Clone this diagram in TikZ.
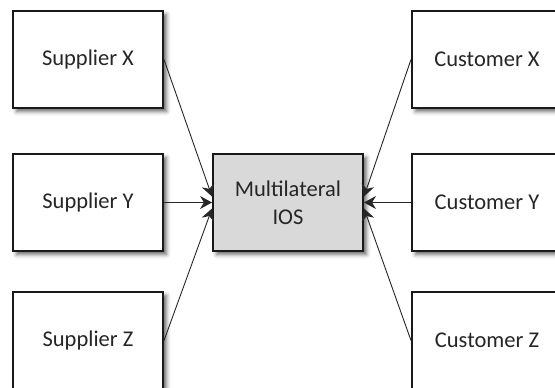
\documentclass[tikz,border=0pt]{standalone}
\usepackage{fontspec}
\setmainfont{Carlito}
\usetikzlibrary{arrows.meta,shadows.blur}
\begin{document}
\begin{tikzpicture}[x=1pt,y=1pt,
  box/.style={draw=black!90, line width=2pt, fill=white, minimum width=150pt, minimum height=97pt,
    inner sep=0pt, text=black!85, font=\fontsize{22.5}{28}\selectfont, align=center,
    blur shadow={shadow xshift=3.5pt, shadow yshift=-3.5pt, shadow blur radius=4pt, shadow opacity=60}},
  hub/.style={box, fill=black!15},
  link/.style={draw=black!85, line width=0.9pt, -{Stealth[length=12pt,width=13pt,inset=4pt]}}]
\useasboundingbox (0,0) rectangle (555,-388);
\clip (0,0) rectangle (555,-388);
\node[box] (sx) at (88,-59.5) {Supplier X};
\node[box] (sy) at (88,-202.5) {Supplier Y};
\node[box] (sz) at (88,-340.5) {Supplier Z};
\node[box] (cx) at (487,-59.5) {Customer X};
\node[box] (cy) at (487,-202.5) {Customer Y};
\node[box] (cz) at (487,-340.5) {Customer Z};
\node[hub] (m) at (288,-202.5) {Multilateral\\IOS};
\coordinate (mlu) at ([yshift=6pt]m.west);
\coordinate (mld) at ([yshift=-6pt]m.west);
\coordinate (mru) at ([yshift=6pt]m.east);
\coordinate (mrd) at ([yshift=-6pt]m.east);
\draw[link] (sx.east) -- (mlu);
\draw[link] (sy.east) -- (m.west);
\draw[link] (sz.east) -- (mld);
\draw[link] (cx.west) -- (mru);
\draw[link] (cy.west) -- (m.east);
\draw[link] (cz.west) -- (mrd);
\end{tikzpicture}
\end{document}
